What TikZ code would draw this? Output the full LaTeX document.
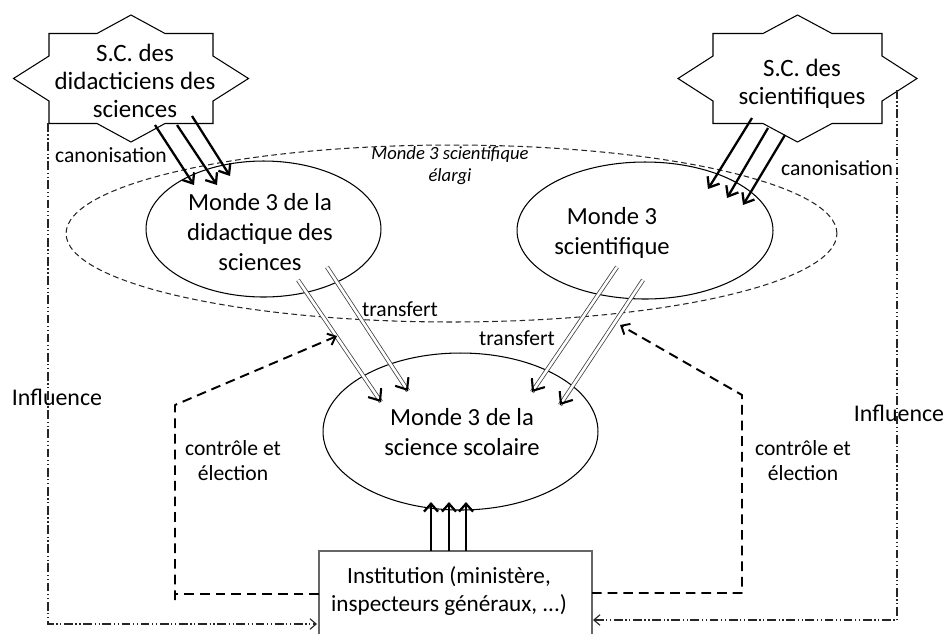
\documentclass[tikz,border=0pt]{standalone}
\usepackage{fontspec}
\setmainfont{Carlito}
\usetikzlibrary{arrows.meta,shapes.geometric,calc}
\begin{document}
\begin{tikzpicture}[x=0.02cm,y=-0.02cm,
  every node/.style={inner sep=0pt, outer sep=0pt},
  bigtxt/.style={align=center, font=\fontsize{14}{17}\selectfont},
  startxt/.style={align=center, font=\fontsize{14.2}{16}\selectfont},
  insttxt/.style={align=center, font=\fontsize{13.2}{15.4}\selectfont},
  lbl/.style={align=center, font=\fontsize{12.3}{14.2}\selectfont},
  inftxt/.style={font=\fontsize{13.6}{16}\selectfont},
  ittxt/.style={align=center, font=\fontsize{10.6}{12.5}\selectfont\itshape},
  oval/.style={draw, ellipse, line width=0.6pt},
  starline/.style={draw, line width=0.6pt, fill=white, line join=miter},
  thickarr/.style={line width=1.3pt, -{Straight Barb[length=5pt,width=8pt]}},
  dbl/.style={draw=black!75, line width=0.45pt, double=white, double distance=1.5pt},
  dbltip/.style={line width=1.2pt, -{Straight Barb[length=5.5pt,width=9pt]}},
  ctl/.style={line width=1.1pt, dash pattern=on 5.5pt off 3.4pt, line join=round, -{Straight Barb[length=4pt,width=7pt]}},
  ctlnotip/.style={line width=1.1pt, dash pattern=on 5.5pt off 3.4pt},
  infl/.style={line width=0.65pt, draw=black!85, dash pattern=on 5pt off 1.5pt on 0.7pt off 1.5pt on 0.7pt off 1.5pt, -{Straight Barb[length=3.5pt,width=6pt]}},
  bigdash/.style={draw=black!85, line width=0.6pt, dash pattern=on 3.2pt off 2pt, ellipse}
]
\useasboundingbox (0,0) rectangle (946,633);

% big dashed ellipse
\node[bigdash, minimum width=15.42cm, minimum height=3.54cm] (big) at (451.5,233.5) {};

% ellipses
\node[oval, minimum width=4.70cm, minimum height=2.72cm] (eL) at (263.5,229) {};
\node[oval, minimum width=5.12cm, minimum height=2.74cm] (eR) at (645,230.5) {};
\node[oval, minimum width=5.50cm, minimum height=3.14cm] (eB) at (460.5,431.5) {};

\node[bigtxt] (tL) at (260,232) {Monde 3 de la\\didactique des\\sciences};
\node[bigtxt] (tR) at (612,233) {Monde 3\\scientifique};
\node[bigtxt] (tB) at (462,432) {Monde 3 de la\\science scolaire};
\node[ittxt] (tBig) at (450,166) {Monde 3 scientifique\\élargi};

% stars
\begin{scope}[shift={(131,78.5)}]
\draw[starline] (-82,-45) -- (-34,-45) -- (0,-63.5) -- (34,-45) -- (82,-45) -- (82,-22.5) -- (117.5,0) -- (82,22.5) -- (82,45) -- (34,45) -- (0,63.5) -- (-34,45) -- (-82,45) -- (-82,22.5) -- (-117.5,0) -- (-82,-22.5) -- cycle;
\end{scope}
\begin{scope}[shift={(797.5,78.5)}]
\draw[starline] (-84.5,-45) -- (-34.5,-45) -- (0,-63.5) -- (34.5,-45) -- (84.5,-45) -- (84.5,-22.5) -- (119.5,0) -- (84.5,22.5) -- (84.5,45) -- (34.5,45) -- (0,63.5) -- (-34.5,45) -- (-84.5,45) -- (-84.5,22.5) -- (-119.5,0) -- (-84.5,-22.5) -- cycle;
\end{scope}
\node[startxt] (sL) at (135,81) {S.C. des\\didacticiens des\\sciences};
\node[startxt] (sR) at (802,84) {S.C. des\\scientifiques};

% institution
\draw[draw=black!60, line width=0.7pt] (319,640) |- (592,551) -- (592,640);
\node[insttxt] (inst) at (449,591) {Institution (ministère,\\inspecteurs généraux, ...)};

% canonisation arrows left
\coordinate (cl1a) at (155,125); \coordinate (cl1b) at (194,185);
\coordinate (cl2a) at (177,125); \coordinate (cl2b) at (217,185);
\coordinate (cl3a) at (192,116); \coordinate (cl3b) at (230,176);
\draw[thickarr] (cl1a) -- (cl1b);
\draw[thickarr] (cl2a) -- (cl2b);
\draw[thickarr] (cl3a) -- (cl3b);
% canonisation arrows right
\coordinate (cr1a) at (752,118); \coordinate (cr1b) at (708,189);
\coordinate (cr2a) at (768,128); \coordinate (cr2b) at (727,198);
\coordinate (cr3a) at (785,135); \coordinate (cr3b) at (743,205);
\draw[thickarr] (cr1a) -- (cr1b);
\draw[thickarr] (cr2a) -- (cr2b);
\draw[thickarr] (cr3a) -- (cr3b);

\node[lbl] (canL) at (111,155) {canonisation};
\node[lbl] (canR) at (837,168) {canonisation};

% transfert arrows
\coordinate (t1a) at (298,280); \coordinate (t1b) at (381,402);
\coordinate (t2a) at (327,267); \coordinate (t2b) at (408,391);
\coordinate (t3a) at (617,267); \coordinate (t3b) at (532,392);
\coordinate (t4a) at (643,280); \coordinate (t4b) at (560,405);
\foreach \p in {t1,t2,t3,t4}{
  \draw[dbl] (\p a) -- (\p b);
  \draw[dbltip] ($(\p b)!2pt!(\p a)$) -- (\p b);
}
\node[lbl] (trL) at (400,309) {transfert};
\node[lbl] (trR) at (517,338) {transfert};

% institution to school science
\foreach \x [count=\i] in {431,449,466}{
  \coordinate (b\i a) at (\x,551);
  \coordinate (b\i b) at (\x,502);
  \draw[line width=1.3pt, -{Straight Barb[length=4.5pt,width=8pt]}] (b\i a) -- (b\i b);
}

% controle et election
\coordinate (cL0) at (319,594); \coordinate (cL1) at (175,594);
\coordinate (cL2) at (175,600); \coordinate (cL3) at (175,405);
\coordinate (cL4) at (337,336);
\draw[ctlnotip] (cL0) -- (cL1);
\draw[ctl] (cL2) -- (cL3) -- (cL4);
\coordinate (cR0) at (592,593); \coordinate (cR1) at (742,593);
\coordinate (cR2) at (742,395); \coordinate (cR3) at (620,325);
\draw[ctl] (cR0) -- (cR1) -- (cR2) -- (cR3);
\node[lbl] (ceL) at (233,461) {contrôle et\\élection};
\node[lbl] (ceR) at (803,461) {contrôle et\\élection};

% influence
\coordinate (iL0) at (48,123); \coordinate (iL1) at (48,624); \coordinate (iL2) at (317,624);
\draw[infl] (iL0) -- (iL1) -- (iL2);
\coordinate (iR0) at (897,90); \coordinate (iR1) at (897,620); \coordinate (iR2) at (593,620);
\draw[infl] (iR0) -- (iR1) -- (iR2);
\node[inftxt] (inL) at (57,397) {Influence};
\node[inftxt] (inR) at (899,413) {Influence};
\end{tikzpicture}
\end{document}
